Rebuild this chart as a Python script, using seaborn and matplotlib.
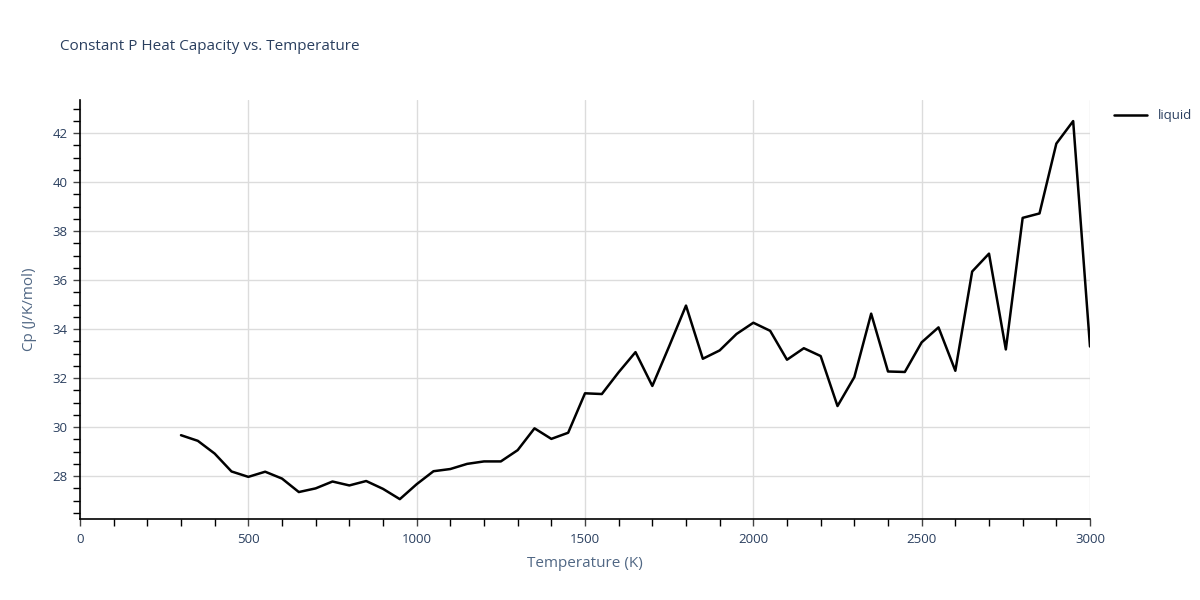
import numpy as np
import pandas as pd
import matplotlib
matplotlib.use("Agg")
import matplotlib.pyplot as plt
import seaborn as sns
from matplotlib.ticker import MultipleLocator

temperature = [300, 350, 400, 450, 500, 550, 600, 650, 700, 750, 800, 850, 900, 950,
               1000, 1050, 1100, 1150, 1200, 1250, 1300, 1350, 1400, 1450, 1500, 1550,
               1600, 1650, 1700, 1750, 1800, 1850, 1900, 1950, 2000, 2050, 2100, 2150,
               2200, 2250, 2300, 2350, 2400, 2450, 2500, 2550, 2600, 2650, 2700, 2750,
               2800, 2850, 2900, 2950, 3000]
cp_liquid = [29.67, 29.44, 28.92, 28.19, 27.97, 28.18, 27.90, 27.35, 27.50, 27.78,
             27.62, 27.80, 27.48, 27.06, 27.67, 28.20, 28.29, 28.50, 28.60, 28.60,
             29.06, 29.95, 29.52, 29.77, 31.38, 31.35, 32.24, 33.06, 31.68, 33.30,
             34.96, 32.79, 33.13, 33.80, 34.26, 33.93, 32.75, 33.22, 32.90, 30.86,
             32.04, 34.63, 32.27, 32.25, 33.46, 34.07, 32.30, 36.35, 37.08, 33.17,
             38.54, 38.72, 41.57, 42.49, 33.29]
series_name = "liquid"
title = "Constant P Heat Capacity vs. Temperature"
xlabel = "Temperature (K)"
ylabel = "Cp (J/K/mol)"

df = pd.DataFrame({"T": temperature, "Cp": cp_liquid, "phase": series_name})

sns.set_theme(style="white")
plt.rcParams["font.family"] = ["Open Sans", "DejaVu Sans"]
text_col = "#2a3f5f"
label_col = "#506784"

fig = plt.figure(figsize=(12, 6), dpi=100)
ax = fig.add_axes([80 / 1200, 81 / 600, 1010 / 1200, 419 / 600])

sns.lineplot(data=df, x="T", y="Cp", hue="phase", palette=["black"], linewidth=1.8,
             ax=ax, legend=True)

ax.set_xlim(0, 3000)
ax.set_ylim(26.25, 43.35)
ax.xaxis.set_major_locator(MultipleLocator(500))
ax.xaxis.set_minor_locator(MultipleLocator(100))
ax.yaxis.set_major_locator(MultipleLocator(2))
ax.yaxis.set_minor_locator(MultipleLocator(0.5))
ax.grid(True, which="major", color="#dcdcdc", linewidth=1)
ax.grid(False, which="minor")
ax.set_axisbelow(True)

for side in ["top", "right"]:
    ax.spines[side].set_visible(False)
for side in ["left", "bottom"]:
    ax.spines[side].set_color("black")
    ax.spines[side].set_linewidth(1.2)

ax.tick_params(axis="both", which="both", bottom=True, left=True, top=False, right=False)
ax.tick_params(axis="both", which="major", direction="out", length=5, width=1,
               color="#444444", labelsize=9.5, labelcolor=text_col, pad=4)
ax.tick_params(axis="both", which="minor", direction="out", length=5, width=1,
               color="black")
ax.tick_params(axis="x", which="major", pad=5)

ax.set_xlabel(xlabel, fontsize=11, color=label_col, labelpad=7)
ax.set_ylabel(ylabel, fontsize=11, color=label_col, labelpad=11)

fig.text(60 / 1200, 1 - 46 / 600, title, fontsize=11, color=text_col,
         ha="left", va="center")

leg = ax.legend(loc="upper left", bbox_to_anchor=(1.015, 1.0), frameon=False,
                fontsize=9.5, handlelength=2.5, borderaxespad=0.3)
for t in leg.get_texts():
    t.set_color(text_col)

fig.savefig("out.png", dpi=100)
